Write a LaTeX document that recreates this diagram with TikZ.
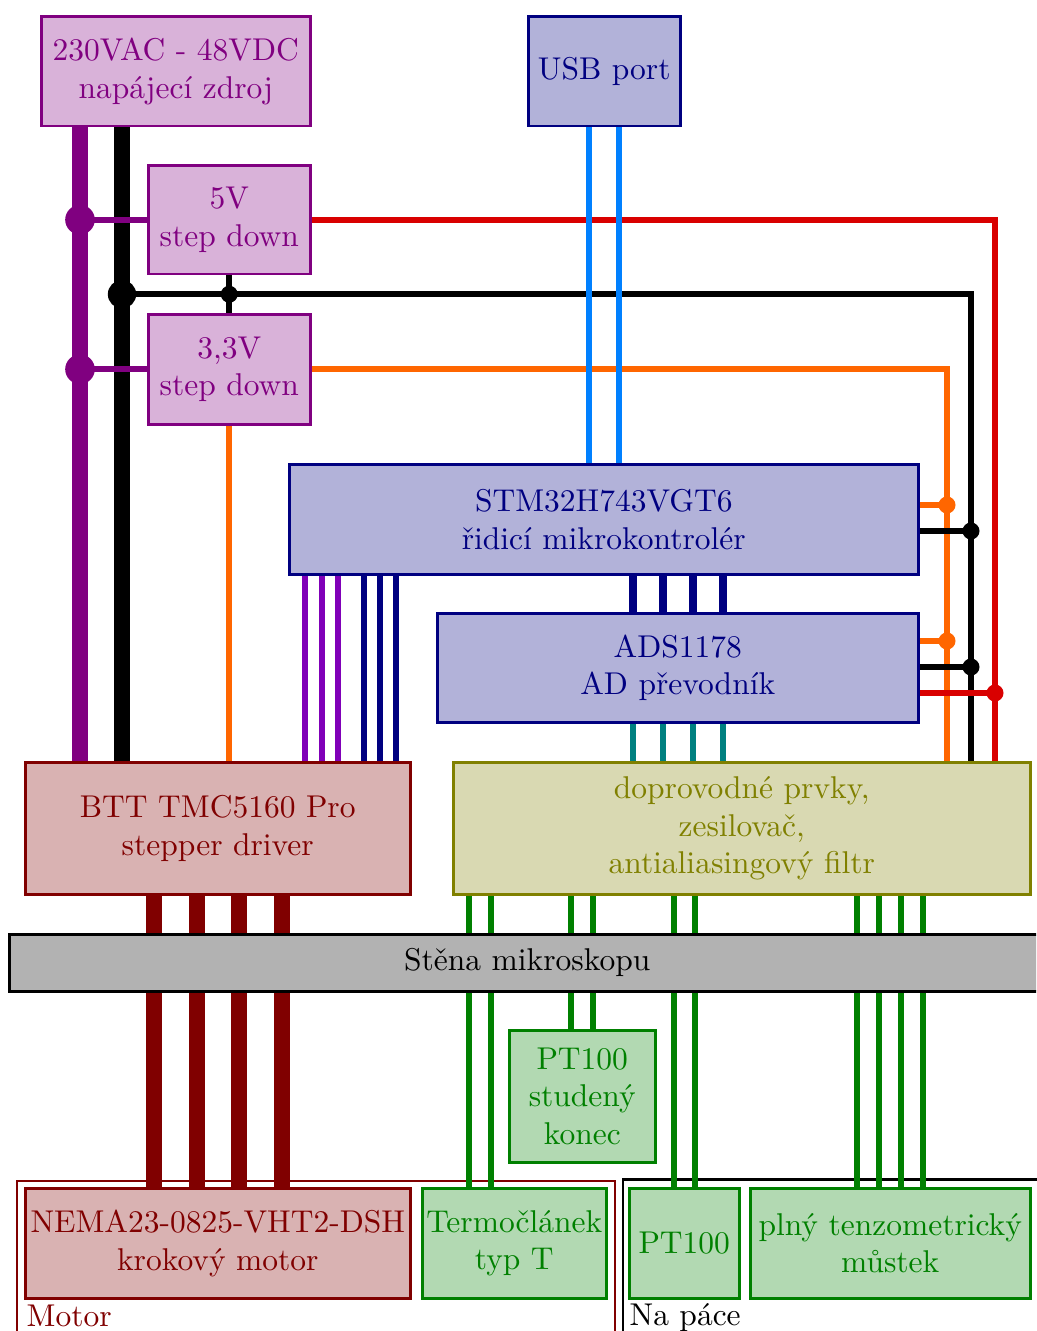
\documentclass[tikz,border=0pt]{standalone}
\usepackage{fontspec}
\usetikzlibrary{calc}
\definecolor{navy}{rgb}{0,0,0.5}
\definecolor{maroon}{rgb}{0.5,0,0}
\definecolor{vio}{rgb}{0.5,0,0.5}
\definecolor{sigvio}{rgb}{0.5,0,0.72}
\definecolor{azure}{rgb}{0,0.5,1}
\definecolor{pwrred}{rgb}{0.85,0,0}
\definecolor{pwrorange}{rgb}{1,0.4,0}
\definecolor{dgreen}{rgb}{0,0.5,0}
\definecolor{tealc}{rgb}{0,0.5,0.5}
\definecolor{olivec}{rgb}{0.5,0.5,0}
\pgfdeclarelayer{frames}
\pgfdeclarelayer{wires}
\pgfsetlayers{frames,wires,main}
\begin{document}
\begin{tikzpicture}[x=0.3175pt,y=-0.3175pt,
  place/.style args={#1/#2/#3/#4}{minimum width={(#3-#1)*0.3175pt},
     minimum height={(#4-#2)*0.3175pt}, at={({(#1+#3)/2},{(#2+#4)/2})}},
  box/.style={draw, line width=0.95pt, inner sep=0pt, outer sep=0pt, align=center},
  pwrbox/.style={box, draw=vio, fill=vio!30, text=vio},
  mcubox/.style={box, draw=navy, fill=navy!30, text=navy},
  motbox/.style={box, draw=maroon, fill=maroon!30, text=maroon},
  anabox/.style={box, draw=olivec, fill=olivec!30, text=olivec},
  senbox/.style={box, draw=dgreen, fill=dgreen!30, text=dgreen},
  wallbox/.style={box, draw=black, fill=black!30, text=black},
  grp/.style={draw, line width=0.8pt, inner sep=0pt, outer sep=0pt},
  bus/.style={line width=5.3pt},
  wire/.style={line width=1.8pt},
  sig/.style={line width=2.1pt},
  grplabel/.style={inner sep=0pt, anchor=base west}
]
\clip (0,0) rectangle (1036,1331);

% ---------- nodes ----------
\node[pwrbox, place=41.5/16.5/310/126] (psu) {230VAC - 48VDC\\napájecí zdroj};
\node[mcubox, place=528.5/16.5/680/126] (usb) {USB port};
\node[pwrbox, place=148.5/165.5/310/274] (v5) {5V\\step down};
\node[pwrbox, place=148.5/314.5/310/424] (v33) {3,3V\\step down};
\node[mcubox, place=289.5/464.5/918/574] (stm) {STM32H743VGT6\\řidicí mikrokontrolér};
\node[mcubox, place=437.5/613.5/918/722] (ads) {ADS1178\\AD převodník};
\node[motbox, place=25.5/762.5/410/894] (btt) {BTT TMC5160 Pro\\stepper driver};
\node[anabox, place=453.5/762.5/1030/894] (dop) {doprovodné prvky,\\zesilovač,\\antialiasingový filtr};
\node[wallbox, place=9.5/934.5/1045/991] (wall) {Stěna mikroskopu};
\node[senbox, place=509.5/1030.5/655/1162] (ptcold) {PT100\\studený\\konec};
\node[motbox, place=25.5/1188.5/410/1298] (nema) {NEMA23-0825-VHT2-DSH\\krokový motor};
\node[senbox, place=422.5/1188.5/606/1298] (tc) {Termočlánek\\typ T};
\node[senbox, place=629.5/1188.5/739/1298] (pt) {PT100};
\node[senbox, place=750.5/1188.5/1030/1298] (bridge) {plný tenzometrický\\můstek};

% ---------- group frames ----------
\begin{pgfonlayer}{frames}
\node[grp, draw=maroon, place=17/1181/615/1420] (motorgrp) {};
\node[grp, draw=black, place=623/1179.5/1060/1420] (pacegrp) {};
\end{pgfonlayer}
\node[grplabel, text=maroon] (motorlbl) at (26,1326) {Motor};
\node[grplabel, text=black] (pacelbl) at (629,1325) {Na páce};

% ---------- junctions ----------
\coordinate (j) at ($(v5.south)!0.5!(v33.north)$);
\coordinate (oS) at (947,505);
\coordinate (kS) at (971,531);
\coordinate (oA) at (947,641);
\coordinate (kA) at (971,667);
\coordinate (rA) at (995,693);

% ---------- wires ----------
\begin{pgfonlayer}{wires}
% main supply
\draw[bus, vio] (80,0 |- psu.south) -- (80,0 |- btt.north);
\draw[bus, black] (122,0 |- psu.south) -- (122,0 |- btt.north);
\draw[wire, vio] (80,0 |- v5.west) -- (v5.west);
\draw[wire, vio] (80,0 |- v33.west) -- (v33.west);
\fill[vio] (80,0 |- v5.west) circle (4.7pt);
\fill[vio] (80,0 |- v33.west) circle (4.7pt);
% ground
\draw[wire, black] (v5.south) -- (v33.north);
\draw[wire, black] (122,0 |- j) -- (971,0 |- j) -- (971,0 |- dop.north);
\fill[black] (122,0 |- j) circle (4.5pt);
\fill[black] (j) circle (2.7pt);
% 5V
\draw[wire, pwrred] (v5.east) -- (995,0 |- v5.east) -- (995,0 |- dop.north);
% 3.3V
\draw[wire, pwrorange] (v33.east) -- (947,0 |- v33.east) -- (947,0 |- dop.north);
\draw[wire, pwrorange] (v33.south) -- (v33.south |- btt.north);
% taps
\draw[wire, pwrorange] (stm.east |- oS) -- (oS);
\draw[wire, black] (stm.east |- kS) -- (kS);
\draw[wire, pwrorange] (ads.east |- oA) -- (oA);
\draw[wire, black] (ads.east |- kA) -- (kA);
\draw[wire, pwrred] (ads.east |- rA) -- (rA);
\fill[pwrorange] (oS) circle (2.7pt);
\fill[black] (kS) circle (2.7pt);
\fill[pwrorange] (oA) circle (2.7pt);
\fill[black] (kA) circle (2.7pt);
\fill[pwrred] (rA) circle (2.7pt);
% USB
\foreach \x in {589,619}
  \draw[sig, azure] (\x,0 |- usb.south) -- (\x,0 |- stm.north);
% MCU -> driver
\foreach \x in {305,322,338}
  \draw[sig, sigvio] (\x,0 |- stm.south) -- (\x,0 |- btt.north);
\foreach \x in {364,380,396}
  \draw[sig, navy] (\x,0 |- stm.south) -- (\x,0 |- btt.north);
% MCU -> ADC
\foreach \x in {633,663,693,723}
  \draw[line width=2.3pt, navy] (\x,0 |- stm.south) -- (\x,0 |- ads.north);
% ADC -> analog front end
\foreach \x in {633,663,693,723}
  \draw[sig, tealc] (\x,0 |- ads.south) -- (\x,0 |- dop.north);
% driver -> motor
\foreach \x in {154,197,239,282}
  \draw[line width=5.1pt, maroon] (\x,0 |- btt.south) -- (\x,0 |- nema.north);
% sensors
\foreach \x in {469,491}
  \draw[sig, dgreen] (\x,0 |- dop.south) -- (\x,0 |- tc.north);
\foreach \x in {571,593}
  \draw[sig, dgreen] (\x,0 |- dop.south) -- (\x,0 |- ptcold.north);
\foreach \x in {674,695}
  \draw[sig, dgreen] (\x,0 |- dop.south) -- (\x,0 |- pt.north);
\foreach \x in {857,879,901,923}
  \draw[sig, dgreen] (\x,0 |- dop.south) -- (\x,0 |- bridge.north);
\end{pgfonlayer}
\end{tikzpicture}
\end{document}
